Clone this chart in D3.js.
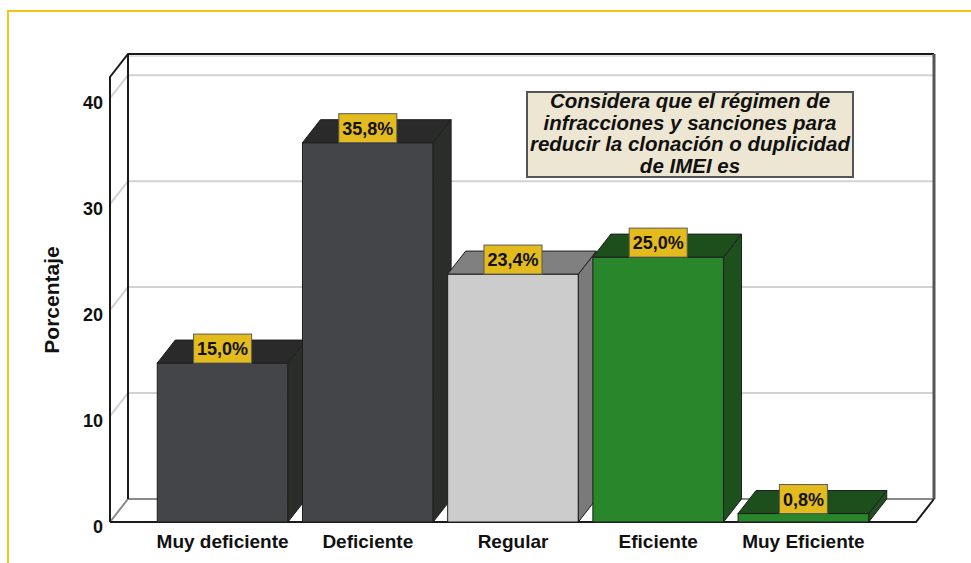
<!DOCTYPE html>
<html>
<head>
<meta charset="utf-8">
<script src="https://cdn.jsdelivr.net/npm/d3@7"></script>
<style>
  html, body { margin: 0; padding: 0; background: #fff; }
  svg { display: block; font-family: "Liberation Sans", Arial, sans-serif; }
</style>
</head>
<body>
<svg id="chart" width="971" height="563"></svg>
<script>
// data
const categories = ['Muy deficiente', 'Deficiente', 'Regular', 'Eficiente', 'Muy Eficiente'];
const values = [15.0, 35.8, 23.4, 25.0, 0.8];
const labels = ['15,0%', '35,8%', '23,4%', '25,0%', '0,8%'];
const tickValues = [0, 10, 20, 30, 40];
const titleLines = ['Considera que el régimen de', 'infracciones y sanciones para', 'reducir la clonación o duplicidad', 'de IMEI es'];

// colours per bar: [front, top, side]
const barColors = [
    ['#444548', '#2a2a2a', '#2b2d2b'],
    ['#444548', '#2a2a2a', '#2b2d2b'],
    ['#cccccc', '#808080', '#7a7a7a'],
    ['#2a862a', '#1d4f1d', '#1d501d'],
    ['#2a862a', '#1d4f1d', '#1d501d']
];

const svg = d3.select('#chart');
const dx = 18, dy = 23; // depth of the 3d box

const x = d3.scaleBand()
    .domain(categories)
    .range([150, 876])
    .paddingInner(0.1)
    .paddingOuter(0.05);

const y = d3.scaleLinear()
    .domain([0, 42])
    .range([522, 77]);

const left = 110, right = 916;

// yellow frame
svg.append('path')
    .attr('d', 'M8,563 L8,11 L971,11')
    .attr('fill', 'none')
    .attr('stroke', '#f6c417')
    .attr('stroke-width', 2);

// walls
const g = svg.append('g');

// gridlines (side wall diagonal + back wall)
g.selectAll('.grid')
    .data(tickValues.filter(d => d > 0))
    .enter()
    .append('polyline')
    .attr('points', d => `${left},${y(d)} ${left + dx},${y(d) - dy} ${right + dx - 1},${y(d) - dy}`)
    .attr('fill', 'none')
    .attr('stroke', '#d2d2d2')
    .attr('stroke-width', 2);

// back floor + floor diagonal
g.append('polyline')
    .attr('points', `${left},${y(0)} ${left + dx},${y(0) - dy} ${right + dx},${y(0) - dy}`)
    .attr('fill', 'none')
    .attr('stroke', '#8a8a8a')
    .attr('stroke-width', 2);

// back wall top line
g.append('line')
    .attr('x1', left + dx).attr('x2', right + dx)
    .attr('y1', y(42) - dy + 2).attr('y2', y(42) - dy + 2)
    .attr('stroke', '#c8c8c8').attr('stroke-width', 1);

// left side wall outline
g.append('polyline')
    .attr('points', `${left},${y(0)} ${left},${y(42)} ${left + dx},${y(42) - dy} ${right + dx},${y(42) - dy}`)
    .attr('fill', 'none')
    .attr('stroke', '#1a1a1a')
    .attr('stroke-width', 2);

g.append('line')
    .attr('x1', left + dx).attr('x2', left + dx)
    .attr('y1', y(42) - dy).attr('y2', y(0) - dy)
    .attr('stroke', '#1a1a1a').attr('stroke-width', 2);

// right edge of back wall
g.append('line')
    .attr('x1', right + dx).attr('x2', right + dx)
    .attr('y1', y(42) - dy).attr('y2', y(0) - dy)
    .attr('stroke', '#555').attr('stroke-width', 3);

// front floor line + right floor diagonal
g.append('polyline')
    .attr('points', `${left},${y(0)} ${right},${y(0)} ${right + dx},${y(0) - dy}`)
    .attr('fill', 'none')
    .attr('stroke', '#1a1a1a')
    .attr('stroke-width', 2);

// bars
const bars = svg.append('g')
    .selectAll('g')
    .data(values)
    .enter()
    .append('g');

bars.append('rect')
    .attr('x', (d, i) => x(categories[i]))
    .attr('y', d => y(d))
    .attr('width', x.bandwidth())
    .attr('height', d => y(0) - y(d))
    .attr('fill', (d, i) => barColors[i][0])
    .attr('stroke', '#1e1e1e')
    .attr('stroke-width', 1);

bars.append('polygon')
    .attr('points', (d, i) => {
        const x1 = x(categories[i]) + x.bandwidth();
        return `${x1},${y(0)} ${x1},${y(d)} ${x1 + dx},${y(d) - dy} ${x1 + dx},${y(0) - dy}`;
    })
    .attr('fill', (d, i) => barColors[i][2])
    .attr('stroke', '#1e1e1e')
    .attr('stroke-width', 1);

bars.append('polygon')
    .attr('points', (d, i) => {
        const x0 = x(categories[i]), x1 = x0 + x.bandwidth();
        return `${x0},${y(d)} ${x1},${y(d)} ${x1 + dx},${y(d) - dy} ${x0 + dx},${y(d) - dy}`;
    })
    .attr('fill', (d, i) => barColors[i][1])
    .attr('stroke', '#1e1e1e')
    .attr('stroke-width', 1);

// value boxes
const boxes = svg.append('g')
    .selectAll('g')
    .data(values)
    .enter()
    .append('g')
    .attr('transform', (d, i) => `translate(${x(categories[i]) + x.bandwidth() / 2},${y(d)})`);

const boxRects = boxes.append('rect')
    .attr('fill', '#e4bb1c')
    .attr('stroke', '#5a5a5a')
    .attr('stroke-width', 1);

const boxText = boxes.append('text')
    .attr('text-anchor', 'middle')
    .attr('y', -8)
    .attr('font-size', 18)
    .attr('font-weight', 'bold')
    .attr('fill', '#111')
    .text((d, i) => labels[i]);

boxText.each(function (d, i) {
    const w = this.getComputedTextLength() + 7;
    d3.select(boxRects.nodes()[i])
        .attr('x', -w / 2)
        .attr('y', -29)
        .attr('width', w)
        .attr('height', 29);
});

// y axis labels
svg.append('g')
    .selectAll('text')
    .data(tickValues)
    .enter()
    .append('text')
    .attr('x', 103)
    .attr('y', d => y(d) + 11)
    .attr('text-anchor', 'end')
    .attr('font-size', 18)
    .attr('font-weight', 'bold')
    .attr('fill', '#111')
    .text(d => d);

svg.append('text')
    .attr('transform', 'translate(59,300) rotate(-90)')
    .attr('text-anchor', 'middle')
    .attr('font-size', 21)
    .attr('font-weight', 'bold')
    .attr('fill', '#111')
    .text('Porcentaje');

// x axis labels
svg.append('g')
    .selectAll('text')
    .data(categories)
    .enter()
    .append('text')
    .attr('x', d => x(d) + x.bandwidth() / 2)
    .attr('y', 548)
    .attr('text-anchor', 'middle')
    .attr('font-size', 19)
    .attr('font-weight', 'bold')
    .attr('fill', '#111')
    .text(d => d);

// title box
const tb = svg.append('g');
tb.append('rect')
    .attr('x', 527).attr('y', 92)
    .attr('width', 326).attr('height', 85)
    .attr('fill', '#ede6d2')
    .attr('stroke', '#555')
    .attr('stroke-width', 2);

tb.selectAll('text')
    .data(titleLines)
    .enter()
    .append('text')
    .attr('x', 690)
    .attr('y', (d, i) => 108 + i * 21.5)
    .attr('text-anchor', 'middle')
    .attr('font-size', 20.5)
    .attr('font-weight', 'bold')
    .attr('font-style', 'italic')
    .attr('fill', '#111')
    .text(d => d);
</script>
</body>
</html>
